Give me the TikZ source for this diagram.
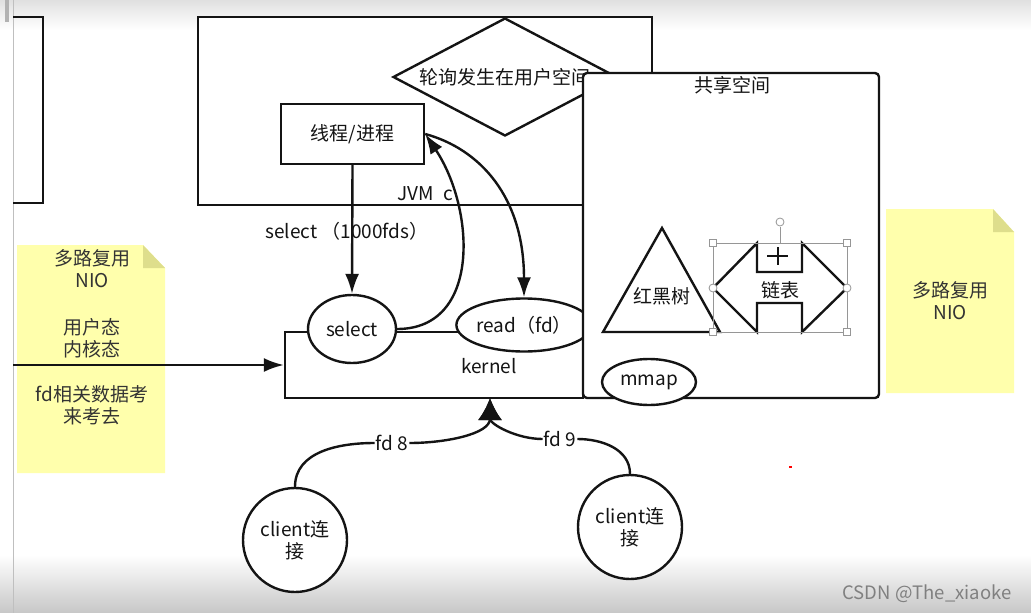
\documentclass[tikz,border=0pt]{standalone}
\usepackage{fontspec}
\setmainfont{Noto Sans CJK SC}
\usepackage{xcolor}
\usepackage{tikz}
\usetikzlibrary{arrows.meta,positioning,calc,shapes.geometric}
\definecolor{ink}{RGB}{20,20,20}
\definecolor{notey}{RGB}{255,255,172}
\definecolor{notefold}{RGB}{222,222,140}
\definecolor{handlegray}{RGB}{150,150,150}

\begin{document}
\begin{tikzpicture}[x=1pt,y=-1pt,font=\fontsize{19}{22}\selectfont,text=ink,
  >={Latex[length=20pt,width=14pt]},
  line/.style={draw=ink,line width=2.4pt},
  box/.style={draw=ink,line width=2.4pt,fill=white,inner sep=0pt},
  oval/.style={ellipse,box},
  bigtip/.style={-{Latex[length=22pt,width=24pt]}},
  handle/.style={draw=handlegray,line width=0.8pt,fill=white},
  notetext/.style={align=center,text=black!80}]
\useasboundingbox (0,0) rectangle (1031,613);
\fill[white] (0,0) rectangle (1031,613);
\shade[top color=black!12,bottom color=white] (0,0) rectangle (1031,30);
\shade[top color=white,bottom color=black!22] (0,555) rectangle (1031,613);
\draw[black!25,line width=1pt] (13,0) -- (13,613);
\fill[black!30] (5,0) rectangle (9,22);
\draw[line] (13,17) -- (43,17) -- (43,203) -- (13,203);

\fill[notey] (17,245) -- (143,245) -- (165,268) -- (165,473) -- (17,473) -- cycle;
\fill[notefold] (143,245) -- (165,268) -- (143,268) -- cycle;
\node[notetext] (nio1) at (92,269) {多路复用\\NIO};
\node[notetext] (mode) at (92,338) {用户态\\内核态};
\node[notetext] (fdcopy) at (92,405.5) {fd相关数据考\\来考去};
\fill[notey] (886,209) -- (993,209) -- (1014,232) -- (1014,393) -- (886,393) -- cycle;
\fill[notefold] (993,209) -- (1014,232) -- (993,232) -- cycle;
\node[notetext] (nio2) at (950,301) {多路复用\\NIO};

\node[box,minimum width=454pt,minimum height=188pt] (jvm) at (425,111) {};
\node[diamond,box,minimum width=224pt,minimum height=118pt] (poll) at (505,77) {};
\node (pollt) at (505,77) {轮询发生在用户空间};
\node[box,minimum width=143pt,minimum height=60pt] (proc) at (352.5,134) {线程/进程};
\node (jvmc) at (425,194) {JVM\enspace c};

\node[box,minimum width=298pt,minimum height=66pt] (kern) at (434,365) {};
\node (kernt) at (489,366) {kernel};
\node[oval,minimum width=88pt,minimum height=68pt] (sel) at (352,329) {select};
\node[oval,minimum width=125pt,minimum height=53pt] (rd) at (524,325) {read（fd）};

\draw[line,->] (proc.south) -- (sel.north);
\node (sellab) at (347,231) {select （1000fds）};
\draw[line,->] (sel.east) .. controls +(84,0) and +(50,75) .. (proc.east);
\draw[line,->] (proc.east) .. controls +(55,15) and +(0,-100) .. (rd.north);

\coordinate (lin) at (13,365);
\draw[line,->] (lin) -- (kern.west);

\node[box,rounded corners=4pt,minimum width=296pt,minimum height=325pt] (shm) at (731,235.5) {};
\node (shmt) at (732,85) {共享空间};
\node[oval,minimum width=94pt,minimum height=46pt] (mmap) at (649,382) {mmap};

\coordinate (rbtop) at (662,228);
\draw[line,fill=white] (rbtop) -- (720,332) -- (603,332) -- cycle;
\node (rbt) at (662,296) {红黑树};

\draw[line,fill=white] (713,288) -- (757,243) -- (757,272) -- (802,272) -- (802,243) -- (847,288)
  -- (802,332) -- (802,303) -- (757,303) -- (757,332) -- cycle;
\node (lst) at (780,290) {链表};
\draw[handlegray,line width=0.8pt] (713,243) rectangle (847,332);
\draw[handlegray,line width=0.8pt] (780,243) -- (780,227);
\foreach \p in {(713,243),(847,243),(713,332),(847,332)}
  \draw[handle] \p ++(-3.5,-3.5) rectangle ++(7,7);
\foreach \p in {(713,288),(847,288),(780,222)}
  \draw[handle] \p circle (4);
\draw[ink,line width=2pt] (767,256) -- (788,256) (777.5,247) -- (777.5,265);

\coordinate (kin) at (490,398);
\node[box,circle,minimum size=104pt,align=center] (cl1) at (295,540) {client连\\接};
\node[box,circle,minimum size=104pt,align=center] (cl2) at (630,527) {client连\\接};
\node[fill=white,inner sep=1pt] (fd8) at (392,443) {fd 8};
\node[fill=white,inner sep=1pt] (fd9) at (560,439) {fd 9};
\draw[line] (cl1.north) to[out=90,in=180] (fd8.west);
\draw[line,bigtip] (fd8.east) to[out=0,in=-90] (kin);
\draw[line] (cl2.north) to[out=90,in=0] (fd9.east);
\draw[line,bigtip] (fd9.west) to[out=180,in=-90] (kin);

\fill[red] (789,466) rectangle (792,468);
\node[text=black!50,font=\fontsize{18.5}{22}\selectfont] (wm) at (927,594) {CSDN @The\_xiaoke};
\end{tikzpicture}
\end{document}
